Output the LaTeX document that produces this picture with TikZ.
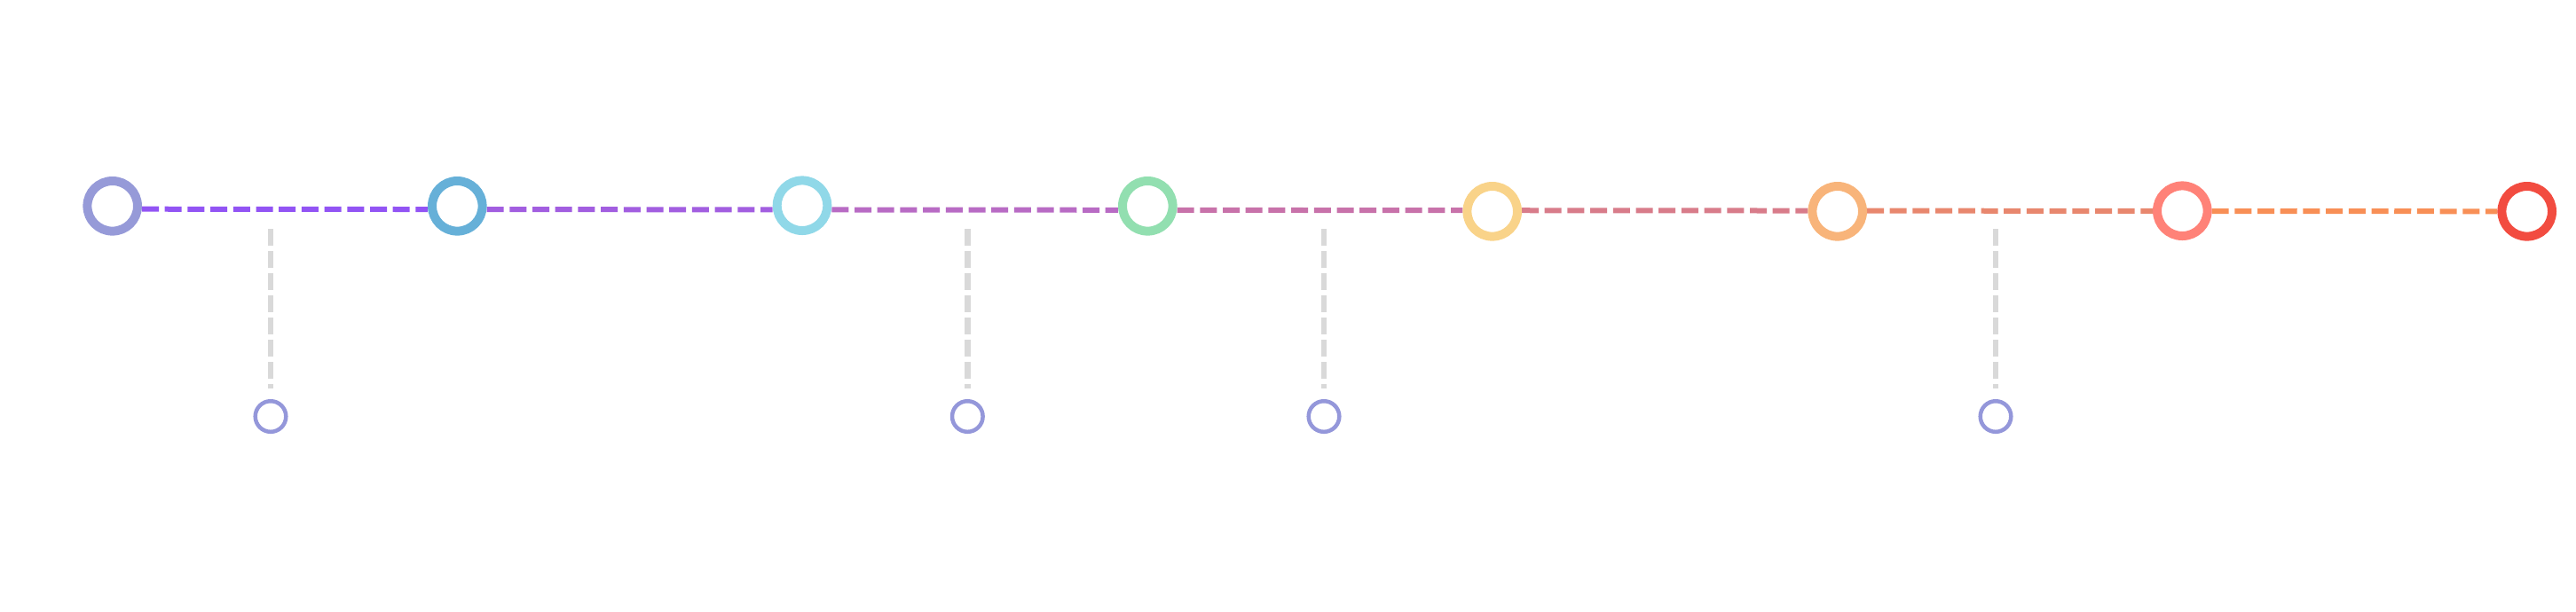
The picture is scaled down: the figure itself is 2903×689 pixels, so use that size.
\documentclass[tikz,border=0pt]{standalone}
\usepackage{xcolor}
\definecolor{ringA}{HTML}{969AD8}
\definecolor{ringB}{HTML}{66B0D8}
\definecolor{ringC}{HTML}{90D8E8}
\definecolor{ringD}{HTML}{92DFB0}
\definecolor{ringE}{HTML}{F9D389}
\definecolor{ringF}{HTML}{F8B47A}
\definecolor{ringG}{HTML}{FF8278}
\definecolor{ringH}{HTML}{F24C40}
\definecolor{smallring}{HTML}{9497DA}
\definecolor{dropgray}{HTML}{D9D9D9}
\definecolor{segA}{HTML}{9254F4}
\definecolor{segB}{HTML}{A25EE0}
\definecolor{segC}{HTML}{B86BC4}
\definecolor{segD}{HTML}{C872AA}
\definecolor{segE}{HTML}{D87C8A}
\definecolor{segF}{HTML}{E8876E}
\definecolor{segG}{HTML}{F88F56}
\begin{document}
\begin{tikzpicture}[x=0.25pt,y=-0.25pt,
  bigring/.style={circle,draw=#1,fill=white,line width=2.5pt,inner sep=0pt,minimum size=14.15pt},
  smallnode/.style={circle,draw=smallring,fill=white,line width=1.125pt,inner sep=0pt,minimum size=8.65pt},
  mainseg/.style={draw=#1,line width=1.5pt,dash pattern=on 4.75pt off 1.675pt,shorten <=8.33pt,shorten >=8.33pt},
  dropline/.style={draw=dropgray,line width=1.65pt,dash pattern=on 4.6pt off 1.65pt,shorten >=3pt}]
\useasboundingbox (0,0) rectangle (2903,689);
% points where the main line passes each ring
\coordinate (p1) at (126.7,235.67);
\coordinate (p2) at (515.3,236.05);
\coordinate (p3) at (904,236.43);
\coordinate (p4) at (1293.3,236.81);
\coordinate (p5) at (1681.7,237.19);
\coordinate (p6) at (2070.7,237.57);
\coordinate (p7) at (2459.3,237.95);
\coordinate (p8) at (2847.7,238.33);
% main dashed connectors
\draw[mainseg=segA] (p1) -- (p2);
\draw[mainseg=segB] (p2) -- (p3);
\draw[mainseg=segC] (p3) -- (p4);
\draw[mainseg=segD] (p4) -- (p5);
\draw[mainseg=segE] (p5) -- (p6);
\draw[mainseg=segF] (p6) -- (p7);
\draw[mainseg=segG] (p7) -- (p8);
% main ring nodes
\node[bigring=ringA] (c1) at (126.7,232.3) {};
\node[bigring=ringB] (c2) at (515.3,232.3) {};
\node[bigring=ringC] (c3) at (904,231.7) {};
\node[bigring=ringD] (c4) at (1293.3,232.3) {};
\node[bigring=ringE] (c5) at (1681.7,238.3) {};
\node[bigring=ringF] (c6) at (2070.7,238.3) {};
\node[bigring=ringG] (c7) at (2459.3,237.7) {};
\node[bigring=ringH] (c8) at (2847.7,238.3) {};
% small nodes
\node[smallnode] (s1) at (305,469.5) {};
\node[smallnode] (s2) at (1090.3,469.5) {};
\node[smallnode] (s3) at (1492,469.5) {};
\node[smallnode] (s4) at (2249,469.5) {};
% drop line tops
\coordinate (t1) at (305,258.3);
\coordinate (t2) at (1090.3,258.3);
\coordinate (t3) at (1492,258.3);
\coordinate (t4) at (2249,258.3);
\draw[dropline] (t1) -- (s1);
\draw[dropline] (t2) -- (s2);
\draw[dropline] (t3) -- (s3);
\draw[dropline] (t4) -- (s4);
\end{tikzpicture}
\end{document}
